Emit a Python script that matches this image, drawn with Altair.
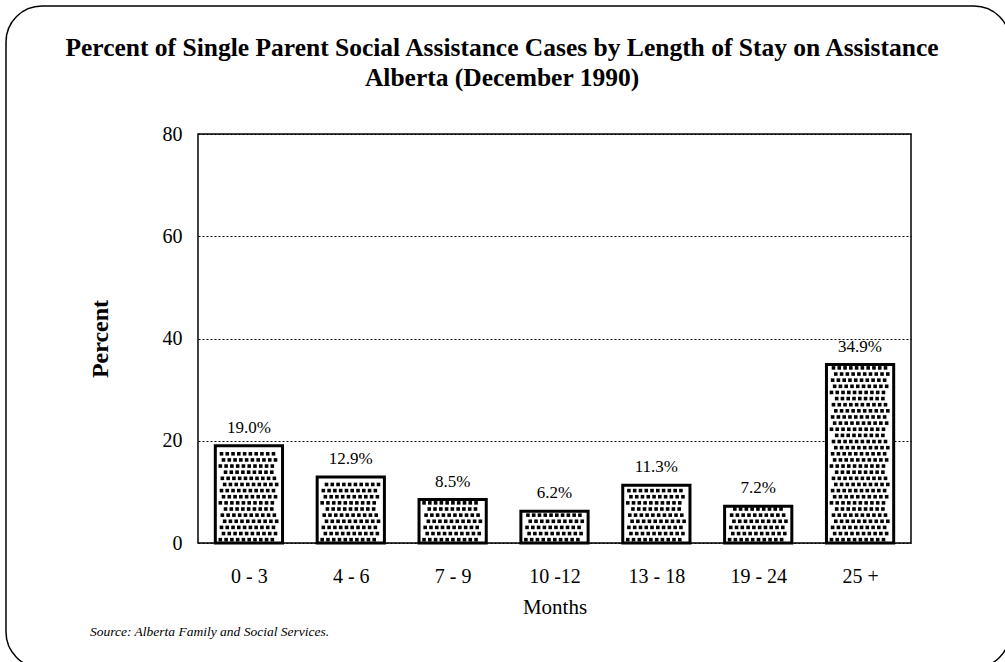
import json
import altair as alt
import pandas as pd

categories = ["0 - 3", "4 - 6", "7 - 9", "10 -12", "13 - 18", "19 - 24", "25 +"]
percent = [19.0, 12.9, 8.5, 6.2, 11.3, 7.2, 34.9]
value_labels = ["19.0%", "12.9%", "8.5%", "6.2%", "11.3%", "7.2%", "34.9%"]
y_ticks = [0, 20, 40, 60, 80]
title_lines = ["Percent of Single Parent Social Assistance Cases by Length of Stay on Assistance",
               "Alberta (December 1990)"]
source_note = ["Source: Alberta Family and Social Services."]

FONT = "Liberation Serif"
HALF = 0.33  # half bar width in category units

bars_df = pd.DataFrame({"idx": list(range(len(categories))), "Months": categories,
                        "Percent": percent, "Label": value_labels})

# stipple texture inside each bar (derived from the bar values)
shifts = [0.0, 0.55, 0.2, 0.75, 0.35, 0.9]
dot_rows = []
for i, v in enumerate(percent):
    k = 0
    while 0.65 + k * 1.2 < v - 0.4:
        yv = 0.65 + k * 1.2
        s = shifts[k % len(shifts)]
        for j in range(10):
            f = (j + 0.25 + s) / 10.4
            if f < 0.97:
                dot_rows.append({"xd": i - HALF + 0.035 + f * (2 * HALF - 0.07), "y": yv})
        k += 1
dots_df = pd.DataFrame(dot_rows)

x_scale = alt.Scale(domain=[-0.5, len(categories) - 0.5], nice=False, zero=False)
y_scale = alt.Scale(domain=[0, 80], nice=False)
label_expr = json.dumps(categories) + "[datum.value]"

x_enc = alt.X("lo:Q", scale=x_scale,
              axis=alt.Axis(title="Months", values=list(range(len(categories))),
                            labelExpr=label_expr, labelAngle=0, ticks=False, domain=False,
                            grid=False, labelFont=FONT, labelFontSize=20, labelColor="black",
                            labelPadding=23, titleFont=FONT, titleFontSize=21,
                            titleFontWeight="normal", titleColor="black", titlePadding=10))
y_enc = alt.Y("Percent:Q", scale=y_scale,
              axis=alt.Axis(title="Percent", values=y_ticks, grid=True, gridDash=[2, 2],
                            gridColor="black", gridWidth=1, gridOpacity=1,
                            domain=False, ticks=False, labelFont=FONT, labelFontSize=20,
                            labelColor="black", labelPadding=16, titleFont=FONT,
                            titleFontSize=24, titleFontWeight="bold", titleColor="black",
                            titlePadding=50))

bars = alt.Chart(bars_df).transform_calculate(
    lo=f"datum.idx - {HALF}", hi=f"datum.idx + {HALF}"
).mark_rect(fill="white", stroke="black", strokeWidth=3).encode(
    x=x_enc, x2="hi:Q", y=y_enc, y2=alt.datum(0))

dots = alt.Chart(dots_df).mark_square(size=13, color="black", opacity=1).encode(
    x=alt.X("xd:Q", scale=x_scale), y=alt.Y("y:Q", scale=y_scale))

labels = alt.Chart(bars_df).mark_text(font=FONT, fontSize=17, color="black", dy=-9,
                                      baseline="bottom").encode(
    x=alt.X("idx:Q", scale=x_scale), y=alt.Y("Percent:Q", scale=y_scale), text="Label:N")

title1 = alt.Chart(pd.DataFrame({"t": title_lines[:1]})).mark_text(
    font=FONT, fontSize=25.5, fontWeight="bold", align="center", baseline="alphabetic",
    color="black").encode(x=alt.value(304), y=alt.value(-78), text="t:N")
title2 = alt.Chart(pd.DataFrame({"t": title_lines[1:]})).mark_text(
    font=FONT, fontSize=25.5, fontWeight="bold", align="center", baseline="alphabetic",
    color="black").encode(x=alt.value(304), y=alt.value(-48), text="t:N")

source = alt.Chart(pd.DataFrame({"t": source_note})).mark_text(
    font=FONT, fontSize=13.5, fontStyle="italic", align="left", baseline="alphabetic",
    color="black").encode(x=alt.value(-108), y=alt.value(502), text="t:N")

border = alt.Chart(pd.DataFrame({"b": [1]})).mark_rect(
    fill=None, stroke="black", strokeWidth=1.5, cornerRadius=36).encode(
    x=alt.value(-192), x2=alt.value(812), y=alt.value(-128), y2=alt.value(534))

chart = alt.layer(border, bars, dots, labels, title1, title2, source).properties(
    width=713, height=409, background="white",
    autosize=alt.AutoSizeParams(type="none"),
    padding={"left": 198, "top": 134, "right": 94, "bottom": 119},
).configure_view(stroke="black", strokeWidth=1.5)

chart.save("out.html", embed_options={"renderer": "svg", "actions": False})
